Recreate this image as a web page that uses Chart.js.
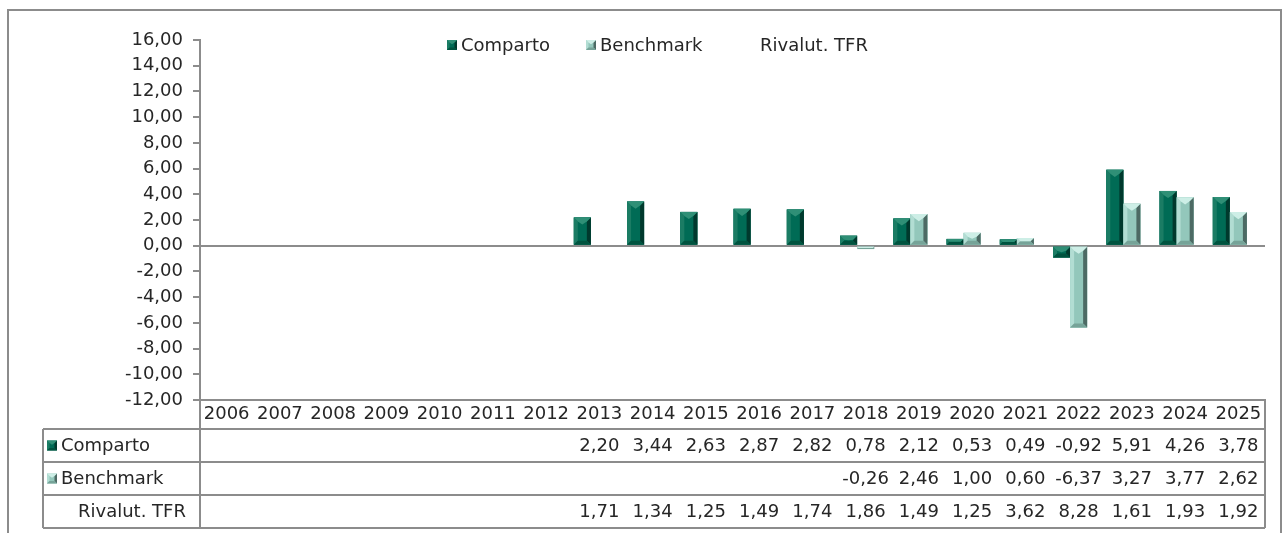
<!DOCTYPE html>
<html>
<head>
<meta charset="utf-8">
<script src="https://cdn.jsdelivr.net/npm/chart.js@4.4.1/dist/chart.umd.min.js"></script>
<style>
    html, body { margin: 0; padding: 0; background: #fff; }
    #wrap { width: 1283px; height: 533px; overflow: hidden; }
</style>
</head>
<body>
<div id="wrap"><canvas id="chart" width="1283" height="533"></canvas></div>
<script>
// data
const years = ['2006', '2007', '2008', '2009', '2010', '2011', '2012', '2013', '2014', '2015',
               '2016', '2017', '2018', '2019', '2020', '2021', '2022', '2023', '2024', '2025'];
const comparto = [null, null, null, null, null, null, null, 2.20, 3.44, 2.63,
                  2.87, 2.82, 0.78, 2.12, 0.53, 0.49, -0.92, 5.91, 4.26, 3.78];
const benchmark = [null, null, null, null, null, null, null, null, null, null,
                   null, null, -0.26, 2.46, 1.00, 0.60, -6.37, 3.27, 3.77, 2.62];
const rivalutTfr = [null, null, null, null, null, null, null, 1.71, 1.34, 1.25,
                    1.49, 1.74, 1.86, 1.49, 1.25, 3.62, 8.28, 1.61, 1.93, 1.92];
const seriesNames = ['Comparto', 'Benchmark', 'Rivalut. TFR'];
const yMin = -12, yMax = 16, yStep = 2;

const FONT = '"DejaVu Sans", sans-serif';
const TEXT = '#262626';
const LINE = '#8c8c8c';

// face, top, left, right, bottom shades for the bevelled bars
const shades = [
    { face: '#006b55', top: '#2f8f76', left: '#1b7c64', right: '#00392d', bottom: '#00533f' },
    { face: '#93c7bb', top: '#cdeee6', left: '#b2ddd3', right: '#4d6a64', bottom: '#76a398' }
];

const fmt = v => v.toFixed(2).replace('.', ',');

function poly(c, pts, color) {
    c.beginPath();
    c.moveTo(pts[0][0], pts[0][1]);
    for (let k = 1; k < pts.length; k++) c.lineTo(pts[k][0], pts[k][1]);
    c.closePath();
    c.fillStyle = color;
    c.fill();
}

function bevel(c, l, t, w, h, sh) {
    const r = l + w, b = t + h, cx = l + w / 2;
    const s = Math.min(4, h / 2, w / 4);
    const tip = Math.min(w * 0.42, h / 2);
    c.fillStyle = sh.face;
    c.fillRect(l, t, w, h);
    poly(c, [[l, t], [l + s, t + s], [l + s, b - s], [l, b]], sh.left);
    poly(c, [[r, t], [r - s, t + s], [r - s, b - s], [r, b]], sh.right);
    poly(c, [[l, b], [r, b], [r - s, b - s], [l + s, b - s]], sh.bottom);
    poly(c, [[l, t], [r, t], [r - s, t + s], [cx, t + tip], [l + s, t + s]], sh.top);
}

const framePlugin = {
    id: 'frame',
    beforeDraw(chart) {
        const c = chart.ctx;
        c.save();
        c.strokeStyle = LINE;
        c.lineWidth = 2;
        c.strokeRect(8, 10, 1273, 600);
        c.restore();
    }
};

const bevelPlugin = {
    id: 'bevel',
    afterDatasetsDraw(chart) {
        const c = chart.ctx;
        c.save();
        [0, 1].forEach(di => {
            const meta = chart.getDatasetMeta(di);
            meta.data.forEach((bar, i) => {
                if (chart.data.datasets[di].data[i] == null) return;
                const p = bar.getProps(['x', 'y', 'base', 'width'], true);
                bevel(c, p.x - p.width / 2, Math.min(p.y, p.base), p.width, Math.abs(p.base - p.y), shades[di]);
            });
        });
        c.restore();
    }
};

const legendPlugin = {
    id: 'customLegend',
    afterDraw(chart) {
        const c = chart.ctx;
        const starts = [447, 586, 746];
        c.save();
        c.font = '18px ' + FONT;
        c.fillStyle = TEXT;
        c.textBaseline = 'middle';
        seriesNames.forEach((name, k) => {
            if (shades[k]) bevel(c, starts[k], 40, 10, 10, shades[k]);
            c.fillStyle = TEXT;
            c.fillText(name, starts[k] + 14, 46);
        });
        c.restore();
    }
};

const tablePlugin = {
    id: 'dataTable',
    afterDraw(chart) {
        const c = chart.ctx;
        const xs = chart.scales.x;
        const ca = chart.chartArea;
        const tableLeft = 43;
        const headBottom = ca.bottom + 29;
        const rowH = 33;
        const rows = [
            { name: seriesNames[0], data: comparto, sh: shades[0] },
            { name: seriesNames[1], data: benchmark, sh: shades[1] },
            { name: seriesNames[2], data: rivalutTfr, sh: null }
        ];
        const bottom = headBottom + rowH * rows.length;

        c.save();
        c.strokeStyle = LINE;
        c.lineWidth = 2;
        c.beginPath();
        for (let k = 0; k <= rows.length; k++) {
            const y = headBottom + rowH * k;
            c.moveTo(tableLeft, y);
            c.lineTo(ca.right, y);
        }
        c.moveTo(tableLeft, headBottom);
        c.lineTo(tableLeft, bottom);
        c.moveTo(ca.left, ca.bottom);
        c.lineTo(ca.left, bottom);
        c.moveTo(ca.right, ca.bottom);
        c.lineTo(ca.right, bottom);
        c.stroke();

        c.font = '18px ' + FONT;
        c.textBaseline = 'middle';
        rows.forEach((row, k) => {
            const yMid = headBottom + rowH * k + rowH / 2 + 1;
            if (row.sh) bevel(c, 47, yMid - 6, 10, 10, row.sh);
            c.fillStyle = TEXT;
            c.textAlign = 'left';
            c.fillText(row.name, 61 + (row.sh ? 0 : 17), yMid);
            c.textAlign = 'center';
            row.data.forEach((v, i) => {
                if (v == null) return;
                c.fillText(fmt(v), xs.getPixelForValue(i), yMid);
            });
        });
        c.restore();
    }
};

const ctx = document.getElementById('chart').getContext('2d');
new Chart(ctx, {
    type: 'bar',
    data: {
        labels: years,
        datasets: [
            { label: seriesNames[0], data: comparto, backgroundColor: shades[0].face },
            { label: seriesNames[1], data: benchmark, backgroundColor: shades[1].face },
            { label: seriesNames[2], data: rivalutTfr, backgroundColor: 'rgba(0,0,0,0)' }
        ]
    },
    options: {
        responsive: false,
        animation: false,
        events: [],
        datasets: {
            bar: { categoryPercentage: 0.96, barPercentage: 1.0, borderWidth: 0 }
        },
        layout: { padding: { top: 40, right: 18, bottom: 104, left: 0 } },
        plugins: {
            legend: { display: false },
            tooltip: { enabled: false }
        },
        scales: {
            x: {
                grid: { drawOnChartArea: false, drawTicks: false },
                border: { display: true, color: LINE, width: 2 },
                ticks: {
                    color: TEXT,
                    font: { family: FONT, size: 18 },
                    padding: 4,
                    autoSkip: false,
                    maxRotation: 0
                },
                afterFit: s => { s.height = 29; }
            },
            y: {
                min: yMin,
                max: yMax,
                grid: {
                    drawOnChartArea: true,
                    color: g => (g.tick && g.tick.value === 0 ? LINE : 'rgba(0,0,0,0)'),
                    lineWidth: 2,
                    tickColor: LINE,
                    tickLength: 7
                },
                border: { display: true, color: LINE, width: 2 },
                ticks: {
                    stepSize: yStep,
                    color: TEXT,
                    font: { family: FONT, size: 18 },
                    padding: 10,
                    callback: v => fmt(v)
                },
                afterFit: s => { s.width = 200; }
            }
        }
    },
    plugins: [framePlugin, bevelPlugin, legendPlugin, tablePlugin]
});
</script>
</body>
</html>
